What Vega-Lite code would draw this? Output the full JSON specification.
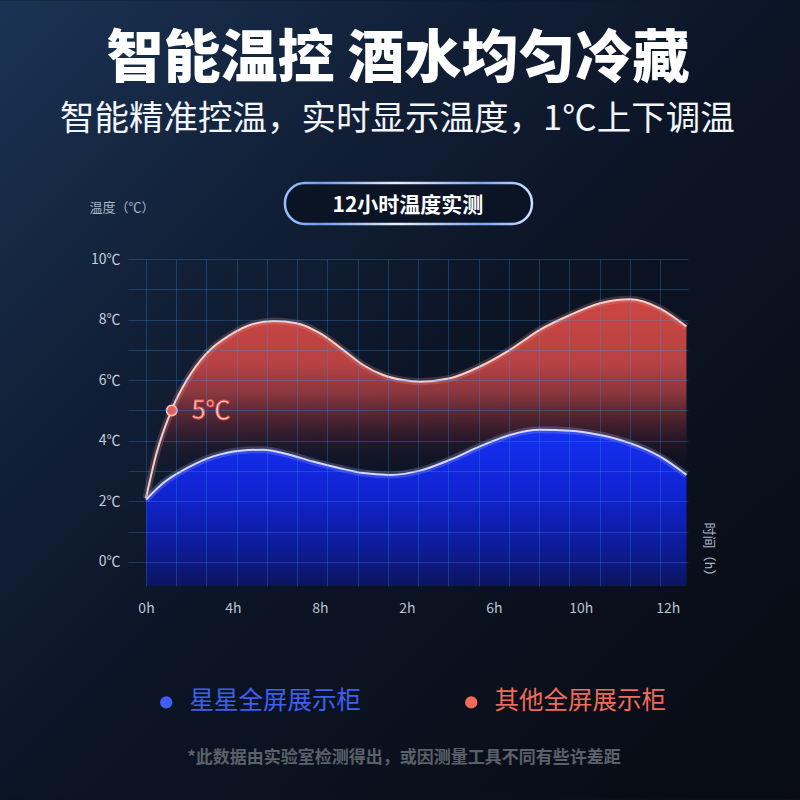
{
  "$schema": "https://vega.github.io/schema/vega-lite/v6.json",
  "width": 560,
  "height": 327,
  "autosize": "none",
  "padding": {"left": 128, "top": 259, "right": 112, "bottom": 214},
  "background": "#0b1221",
  "config": {"font": "Noto Sans CJK SC", "view": {"stroke": null}},
  "datasets": {
    "curves": [
      {"series": "其他全屏展示柜", "t": 0, "v": 2.1},
      {"series": "其他全屏展示柜", "t": 0.35, "v": 3.59},
      {"series": "其他全屏展示柜", "t": 0.85, "v": 5.02},
      {"series": "其他全屏展示柜", "t": 1.35, "v": 6.0},
      {"series": "其他全屏展示柜", "t": 2.01, "v": 6.89},
      {"series": "其他全屏展示柜", "t": 2.78, "v": 7.49},
      {"series": "其他全屏展示柜", "t": 3.44, "v": 7.82},
      {"series": "其他全屏展示柜", "t": 4.21, "v": 7.95},
      {"series": "其他全屏展示柜", "t": 4.98, "v": 7.88},
      {"series": "其他全屏展示柜", "t": 5.75, "v": 7.55},
      {"series": "其他全屏展示柜", "t": 6.52, "v": 7.0},
      {"series": "其他全屏展示柜", "t": 7.18, "v": 6.5},
      {"series": "其他全屏展示柜", "t": 7.84, "v": 6.17},
      {"series": "其他全屏展示柜", "t": 8.51, "v": 6.0},
      {"series": "其他全屏展示柜", "t": 9.06, "v": 5.95},
      {"series": "其他全屏展示柜", "t": 10.05, "v": 6.06},
      {"series": "其他全屏展示柜", "t": 11.04, "v": 6.45},
      {"series": "其他全屏展示柜", "t": 12.03, "v": 7.0},
      {"series": "其他全屏展示柜", "t": 13.02, "v": 7.66},
      {"series": "其他全屏展示柜", "t": 14.02, "v": 8.15},
      {"series": "其他全屏展示柜", "t": 15.01, "v": 8.54},
      {"series": "其他全屏展示柜", "t": 16.0, "v": 8.67},
      {"series": "其他全屏展示柜", "t": 16.99, "v": 8.37},
      {"series": "其他全屏展示柜", "t": 17.87, "v": 7.77},
      {"series": "星星全屏展示柜", "t": 0, "v": 2.05},
      {"series": "星星全屏展示柜", "t": 0.57, "v": 2.6},
      {"series": "星星全屏展示柜", "t": 1.35, "v": 3.09},
      {"series": "星星全屏展示柜", "t": 2.22, "v": 3.48},
      {"series": "星星全屏展示柜", "t": 3.11, "v": 3.67},
      {"series": "星星全屏展示柜", "t": 3.88, "v": 3.7},
      {"series": "星星全屏展示柜", "t": 4.65, "v": 3.56},
      {"series": "星星全屏展示柜", "t": 5.53, "v": 3.31},
      {"series": "星星全屏展示柜", "t": 6.41, "v": 3.09},
      {"series": "星星全屏展示柜", "t": 7.18, "v": 2.93},
      {"series": "星星全屏展示柜", "t": 8.07, "v": 2.87},
      {"series": "星星全屏展示柜", "t": 9.06, "v": 3.01},
      {"series": "星星全屏展示柜", "t": 10.05, "v": 3.37},
      {"series": "星星全屏展示柜", "t": 11.04, "v": 3.81},
      {"series": "星星全屏展示柜", "t": 12.03, "v": 4.19},
      {"series": "星星全屏展示柜", "t": 13.02, "v": 4.36},
      {"series": "星星全屏展示柜", "t": 14.02, "v": 4.33},
      {"series": "星星全屏展示柜", "t": 15.01, "v": 4.19},
      {"series": "星星全屏展示柜", "t": 16.0, "v": 3.92},
      {"series": "星星全屏展示柜", "t": 16.99, "v": 3.48},
      {"series": "星星全屏展示柜", "t": 17.87, "v": 2.87}
    ],
    "marker": [{"t": 0.85, "v": 5.0, "label": "5℃"}]
  },
  "encoding": {
    "x": {"field": "t", "type": "quantitative", "scale": {"domain": [-0.595, 17.92], "nice": false, "zero": false}, "axis": null},
    "y": {"field": "v", "type": "quantitative", "scale": {"domain": [-0.8, 10], "nice": false, "zero": false}, "axis": null}
  },
  "resolve": {"axis": {"x": "independent", "y": "independent"}},
  "layer": [
    {
      "data": {"values": [{"t": -4.83, "t2": 21.62, "v": 18.55, "v2": -7.85}]},
      "mark": {
        "type": "rect",
        "clip": false,
        "color": {
          "gradient": "linear", "x1": 0, "y1": 0, "x2": 1, "y2": 1,
          "stops": [
            {"offset": 0, "color": "#1a3354"},
            {"offset": 0.3, "color": "#111f36"},
            {"offset": 0.5, "color": "#0c1526"},
            {"offset": 1, "color": "#080b12"}
          ]
        }
      },
      "encoding": {"x2": {"field": "t2"}, "y2": {"field": "v2"}}
    },
    {
      "data": {"name": "curves"},
      "transform": [{"filter": "datum.series == '其他全屏展示柜'"}],
      "mark": {
        "type": "area",
        "interpolate": "monotone",
        "color": {
          "gradient": "linear", "x1": 0, "y1": 0, "x2": 0, "y2": 1,
          "stops": [
            {"offset": 0, "color": "#cc4642"},
            {"offset": 0.22, "color": "#b84244"},
            {"offset": 0.33, "color": "rgba(150,58,64,0.9)"},
            {"offset": 0.45, "color": "rgba(90,36,50,0.6)"},
            {"offset": 0.55, "color": "rgba(40,22,45,0.25)"},
            {"offset": 0.65, "color": "rgba(20,20,40,0)"}
          ]
        }
      },
      "encoding": {
        "x": {
          "field": "t", "type": "quantitative",
          "axis": {
            "orient": "bottom",
            "values": [0, 2.875, 5.75, 8.625, 11.5, 14.375, 17.25],
            "labelExpr": "['0h','4h','8h','2h','6h','10h','12h'][round(datum.value / 2.875)]",
            "grid": false, "ticks": false, "domain": false,
            "labelFlush": false, "labelOverlap": false, "labelBound": false,
            "labelFontSize": 14, "labelColor": "#b8c4d4", "labelPadding": 15,
            "title": "时间（h）", "titleAngle": 90, "titleX": 580, "titleY": -34,
            "titleAlign": "center", "titleBaseline": "middle",
            "titleColor": "#aab6c6", "titleFontSize": 13, "titleFontWeight": "normal",
            "zindex": 1
          }
        },
        "y": {
          "field": "v", "type": "quantitative",
          "axis": {
            "values": [0, 1, 2, 3, 4, 5, 6, 7, 8, 9, 10],
            "labelExpr": "datum.value % 2 == 0 ? datum.value + '℃' : ''",
            "grid": true, "gridColor": "#3a96f0", "gridOpacity": 0.28, "gridWidth": 1,
            "ticks": false, "domain": false,
            "labelFontSize": 14, "labelColor": "#c8d0dc", "labelPadding": 8,
            "title": "温度（℃）", "titleAngle": 0, "titleX": -39, "titleY": -52,
            "titleAlign": "left", "titleBaseline": "middle",
            "titleColor": "#aab6c6", "titleFontSize": 13, "titleFontWeight": "normal",
            "zindex": 1
          }
        },
        "y2": {"datum": -0.8}
      }
    },
    {
      "data": {"name": "curves"},
      "transform": [{"filter": "datum.series == '其他全屏展示柜'"}],
      "mark": {"type": "line", "interpolate": "monotone", "color": "#ff9a90", "strokeWidth": 7, "opacity": 0.22},
      "encoding": {}
    },
    {
      "data": {"name": "curves"},
      "transform": [{"filter": "datum.series == '其他全屏展示柜'"}],
      "mark": {"type": "line", "interpolate": "monotone", "color": "#f3d2ce", "strokeWidth": 2},
      "encoding": {}
    },
    {
      "data": {"name": "curves"},
      "transform": [{"filter": "datum.series == '星星全屏展示柜'"}],
      "mark": {
        "type": "area",
        "interpolate": "monotone",
        "color": {
          "gradient": "linear", "x1": 0, "y1": 0, "x2": 0, "y2": 1,
          "stops": [
            {"offset": 0, "color": "#1530f2"},
            {"offset": 0.4, "color": "#1024d2"},
            {"offset": 0.75, "color": "#0d1c98"},
            {"offset": 1, "color": "#0b155e"}
          ]
        }
      },
      "encoding": {
        "x": {
          "field": "t", "type": "quantitative",
          "axis": {
            "orient": "bottom",
            "values": [0, 1, 2, 3, 4, 5, 6, 7, 8, 9, 10, 11, 12, 13, 14, 15, 16, 17],
            "labels": false, "ticks": false, "domain": false, "title": null,
            "grid": true, "gridColor": "#3a96f0", "gridOpacity": 0.28, "gridWidth": 1,
            "zindex": 1
          }
        },
        "y2": {"datum": -0.8}
      }
    },
    {
      "data": {"name": "curves"},
      "transform": [{"filter": "datum.series == '星星全屏展示柜'"}],
      "mark": {"type": "line", "interpolate": "monotone", "color": "#a8b0ff", "strokeWidth": 7, "opacity": 0.25},
      "encoding": {}
    },
    {
      "data": {"name": "curves"},
      "transform": [{"filter": "datum.series == '星星全屏展示柜'"}],
      "mark": {"type": "line", "interpolate": "monotone", "color": "#d6d8ff", "strokeWidth": 2},
      "encoding": {}
    },
    {
      "data": {"name": "marker"},
      "mark": {"type": "point", "filled": true, "size": 110, "fill": "#f25c4c", "stroke": "#ffc8c0", "strokeWidth": 1.5, "opacity": 1},
      "encoding": {}
    },
    {
      "data": {"name": "marker"},
      "mark": {"type": "text", "align": "left", "baseline": "middle", "dx": 20, "dy": 1, "fontSize": 25, "fill": "#ffd8d2", "stroke": "#e8504a", "strokeWidth": 0.8},
      "encoding": {"text": {"field": "label"}}
    },
    {
      "data": {"values": [{"text": "智能温控 酒水均匀冷藏", "t": 8.33, "v": 16.57}]},
      "mark": {"type": "text", "clip": false, "align": "center", "baseline": "middle", "fontSize": 57, "fontWeight": 900, "color": "#ffffff"},
      "encoding": {"text": {"field": "text"}}
    },
    {
      "data": {"values": [{"text": "智能精准控温，实时显示温度，1℃上下调温", "t": 8.31, "v": 14.59}]},
      "mark": {"type": "text", "clip": false, "align": "center", "baseline": "middle", "fontSize": 34.5, "color": "#f2f5f9"},
      "encoding": {"text": {"field": "text"}}
    },
    {
      "data": {"values": [{"t": 4.595, "t2": 12.76, "v": 12.51, "v2": 11.155}]},
      "mark": {
        "type": "rect", "clip": false, "cornerRadius": 20, "fill": "#0b1425", "strokeWidth": 2.5,
        "stroke": {
          "gradient": "linear", "x1": 0, "y1": 0, "x2": 1, "y2": 0,
          "stops": [
            {"offset": 0, "color": "#9cc0ff"},
            {"offset": 0.15, "color": "#6c9cf0"},
            {"offset": 0.45, "color": "#e8eef8"},
            {"offset": 0.8, "color": "#7aa6f5"},
            {"offset": 1, "color": "#cfe0ff"}
          ]
        }
      },
      "encoding": {"x2": {"field": "t2"}, "y2": {"field": "v2"}}
    },
    {
      "data": {"values": [{"text": "12小时温度实测", "t": 8.66, "v": 11.75}]},
      "mark": {"type": "text", "clip": false, "align": "center", "baseline": "middle", "fontSize": 21, "fontWeight": "bold", "color": "#ffffff"},
      "encoding": {"text": {"field": "text"}}
    },
    {
      "data": {"values": [{"text": "*此数据由实验室检测得出，或因测量工具不同有些许差距", "t": 8.53, "v": -6.47}]},
      "mark": {"type": "text", "clip": false, "align": "center", "baseline": "middle", "fontSize": 17, "fontWeight": "bold", "color": "#5b6069"},
      "encoding": {"text": {"field": "text"}}
    },
    {
      "data": {"name": "curves"},
      "mark": {"type": "point", "filled": true, "opacity": 0},
      "encoding": {
        "color": {
          "field": "series", "type": "nominal",
          "scale": {"domain": ["星星全屏展示柜", "其他全屏展示柜"], "range": ["#3f5ef6", "#f26a5a"]},
          "legend": {
            "orient": "none", "legendX": 26, "legendY": 431, "direction": "horizontal",
            "title": null, "padding": 0,
            "symbolType": "circle", "symbolSize": 150, "symbolStrokeWidth": 0, "symbolOpacity": 1,
            "labelFontSize": 24.5, "labelOffset": 11, "columnPadding": 98, "labelLimit": 300,
            "labelColor": {"expr": "datum.value == '星星全屏展示柜' ? '#3f5ef6' : '#f26a5a'"}
          }
        }
      }
    }
  ]
}
